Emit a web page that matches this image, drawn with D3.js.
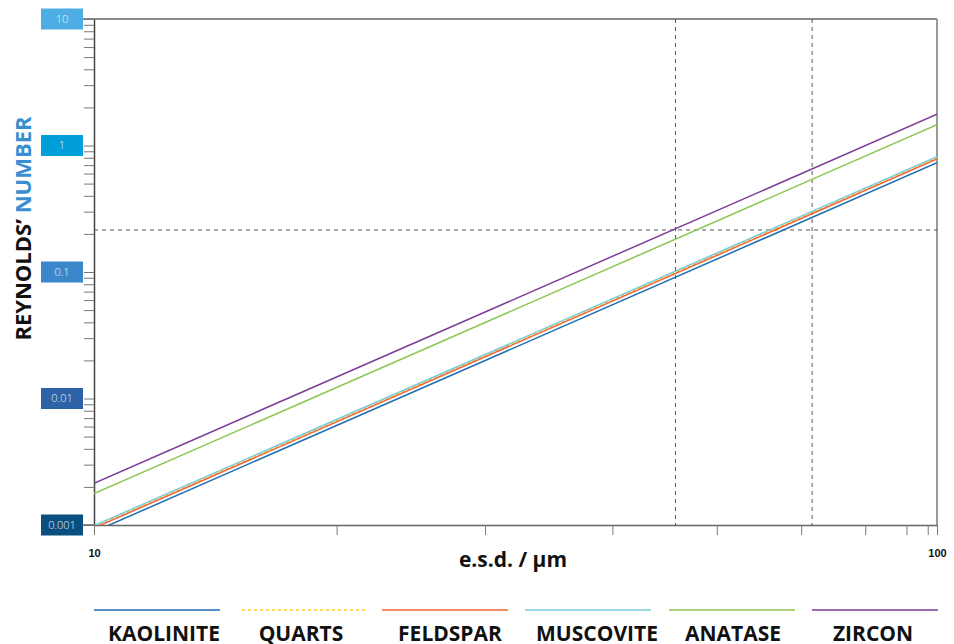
<!DOCTYPE html>
<html>
<head>
<meta charset="utf-8">
<script src="https://cdn.jsdelivr.net/npm/d3@7"></script>
<style>
  html, body { margin: 0; padding: 0; background: #fff; }
  svg { display: block; font-family: "Open Sans", "Noto Sans", sans-serif; }
</style>
</head>
<body>
<svg id="chart" width="954" height="644"></svg>
<script>
// ---------- data ----------
const categories = ["KAOLINITE", "QUARTS", "FELDSPAR", "MUSCOVITE", "ANATASE", "ZIRCON"];
const esd = [10, 100];                       // e.s.d. / µm
const reKaolinite = [0.000885, 0.731];
const reQuarts    = [0.000964, 0.797];
const reFeldspar  = [0.000947, 0.782];
const reMuscovite = [0.000988, 0.816];
const reAnatase   = [0.00177, 1.46];
const reZircon    = [0.00214, 1.765];
const seriesValues = [reKaolinite, reQuarts, reFeldspar, reMuscovite, reAnatase, reZircon];
const seriesColors = ["#1f6db1", "#fcd12a", "#f26430", "#79cbd9", "#8cc652", "#7d3c98"];
const seriesDashed = [false, true, false, false, false, false];

const yLabelValues = [10, 1, 0.1, 0.01, 0.001];
const yLabelTexts  = ["10", "1", "0.1", "0.01", "0.001"];
const yLabelColors = ["#4eaee3", "#009fda", "#3a87cb", "#2d63a6", "#0b4e80"];

const xTickValues = [10, 19.4, 29.1, 41.2, 54.8, 69.0, 82.2, 92.0, 97.5, 100];
const xTickLabels = ["10", "", "", "", "", "", "", "", "", "100"];

const refEsd = [48.96, 71.1];   // vertical dashed guides
const refRe  = [0.215];         // horizontal dashed guide

// ---------- layout ----------
const svg = d3.select("#chart");
const L = 94, R = 937, T = 19, B = 525;

const x = d3.scaleLog().domain([10, 100]).range([L, R]);
const y = d3.scaleLog().domain([0.001, 10]).range([B, T]);

// clip
svg.append("defs").append("clipPath").attr("id", "plotclip")
  .append("rect").attr("x", L).attr("y", T).attr("width", R - L).attr("height", B - T);

// frame: top and right
svg.append("line").attr("x1", 83).attr("x2", R).attr("y1", T).attr("y2", T)
  .attr("stroke", "#8a8a8a").attr("stroke-width", 2);
svg.append("line").attr("x1", R).attr("x2", R).attr("y1", T).attr("y2", B)
  .attr("stroke", "#9a9a9a").attr("stroke-width", 2);

// y axis
const yAxis = d3.axisLeft(y).tickValues(y.ticks()).tickFormat("").tickSize(10).tickSizeOuter(0);
const gy = svg.append("g").attr("transform", `translate(${L},0)`).call(yAxis);
gy.select(".domain").attr("stroke", "#444").attr("stroke-width", 1.5);
gy.selectAll(".tick line").attr("stroke", "#777").attr("stroke-width", 1);

// x axis
const xAxis = d3.axisBottom(x).tickValues(xTickValues)
  .tickFormat((d, i) => xTickLabels[i]).tickSize(10).tickSizeOuter(0).tickPadding(14);
const gx = svg.append("g").attr("transform", `translate(0,${B})`).call(xAxis);
gx.select(".domain").attr("stroke", "#666").attr("stroke-width", 1.5);
gx.selectAll(".tick line").attr("stroke", "#777");
gx.selectAll(".tick text").attr("font-size", 11).attr("font-weight", 700).attr("fill", "#111");

// bottom line extension to the left (0.001 tick)
svg.append("line").attr("x1", 83).attr("x2", L).attr("y1", B).attr("y2", B)
  .attr("stroke", "#666").attr("stroke-width", 1.5);

// y label boxes
const yl = svg.append("g").selectAll("g").data(yLabelValues).join("g")
  .attr("transform", d => `translate(41,${y(d)})`);
yl.append("rect").attr("x", 0).attr("y", -10.5).attr("width", 42).attr("height", 21)
  .attr("fill", (d, i) => yLabelColors[i]);
yl.append("text").attr("x", 21).attr("y", 0).attr("dy", "0.35em")
  .attr("text-anchor", "middle").attr("font-size", 11).attr("font-weight", 300)
  .attr("fill", "#e8eef4").text((d, i) => yLabelTexts[i]);

// dashed guides
svg.append("g").selectAll("line").data(refEsd).join("line")
  .attr("x1", d => x(d)).attr("x2", d => x(d)).attr("y1", T).attr("y2", B)
  .attr("stroke", "#555").attr("stroke-width", 1).attr("stroke-dasharray", "4,4");
svg.append("g").selectAll("line").data(refRe).join("line")
  .attr("x1", L).attr("x2", R).attr("y1", d => y(d)).attr("y2", d => y(d))
  .attr("stroke", "#555").attr("stroke-width", 1).attr("stroke-dasharray", "4,4");

// series lines
const line = d3.line().x(d => x(d[0])).y(d => y(d[1]));
svg.append("g").attr("clip-path", "url(#plotclip)")
  .selectAll("path").data(seriesValues).join("path")
  .attr("d", vals => line(esd.map((e, i) => [e, vals[i]])))
  .attr("fill", "none")
  .attr("stroke", (d, i) => seriesColors[i])
  .attr("stroke-width", 1.5)
  .attr("stroke-dasharray", (d, i) => seriesDashed[i] ? "3,3" : null);

// axis titles
svg.append("text").attr("x", 513).attr("y", 567).attr("text-anchor", "middle")
  .attr("font-size", 21).attr("font-weight", 700).attr("fill", "#111").text("e.s.d. / µm");

const yt = svg.append("text").attr("transform", "translate(31,228.5) rotate(-90)")
  .attr("text-anchor", "middle").attr("font-size", 22).attr("font-weight", 700);
yt.append("tspan").attr("fill", "#111").text("REYNOLDS’ ");
yt.append("tspan").attr("fill", "#3a8fd0").text("NUMBER");

// legend
const legendLineX = [94, 242, 382, 525, 669, 812];
const legendLabelX = [164, 301, 450, 597, 733, 873];
const lg = svg.append("g").selectAll("g").data(categories).join("g");
lg.append("line")
  .attr("x1", (d, i) => legendLineX[i]).attr("x2", (d, i) => legendLineX[i] + 126)
  .attr("y1", 610).attr("y2", 610)
  .attr("stroke", (d, i) => seriesColors[i]).attr("stroke-width", 1.5)
  .attr("stroke-dasharray", (d, i) => seriesDashed[i] ? "3,3" : null);
lg.append("text").attr("x", (d, i) => legendLabelX[i]).attr("y", 641)
  .attr("text-anchor", "middle").attr("font-size", 21).attr("font-weight", 700)
  .attr("fill", "#111").text(d => d);
</script>
</body>
</html>
